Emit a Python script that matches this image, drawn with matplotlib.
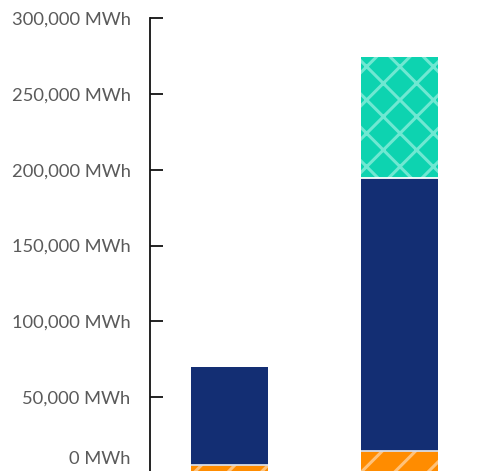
import matplotlib
matplotlib.use("Agg")
import matplotlib.pyplot as plt
import matplotlib.transforms as mtransforms
from matplotlib.ticker import FuncFormatter

categories = ["A", "B"]
orange_vals = [5300, 14500]
navy_vals = [64700, 180200]
teal_vals = [0, 79300]
yticks = [0, 50000, 100000, 150000, 200000, 250000, 300000]

plt.rcParams["font.family"] = ["Lato", "DejaVu Sans"]
plt.rcParams["hatch.linewidth"] = 2.2

fig = plt.figure(figsize=(5.01, 4.71), dpi=100)
ax = fig.add_axes([150/501, -2/471, 340/501, (473-18)/471])

x = list(range(len(categories)))
w = 0.453
bottoms2 = [o + n for o, n in zip(orange_vals, navy_vals)]

ax.bar(x, orange_vals, w, color="#FF8C00", edgecolor="#FFC27A", lw=0, hatch="/")
ax.bar(x, navy_vals, w, bottom=orange_vals, color="#132E73", lw=0)
ax.bar(x, teal_vals, w, bottom=bottoms2, color="#0DD3B0", edgecolor="#6FE8D2", lw=0, hatch="/\\")
# thin separators between segments
ax.hlines(orange_vals, [xi - w/2 for xi in x], [xi + w/2 for xi in x],
          color="#D8DCE6", lw=1.3, zorder=3)
sep_x = [xi for xi, t in zip(x, teal_vals) if t > 0]
sep_y = [b for b, t in zip(bottoms2, teal_vals) if t > 0]
ax.hlines(sep_y, [xi - w/2 for xi in sep_x], [xi + w/2 for xi in sep_x],
          color="white", lw=1.3, zorder=3)

ax.set_xlim(-0.468, 1.53)
ax.set_ylim(0, 300000)
ax.set_yticks(yticks)
ax.yaxis.set_major_formatter(FuncFormatter(lambda v, p: f"{int(v):,} MWh"))
ax.set_xticks([])
for s in ["top", "right", "bottom"]:
    ax.spines[s].set_visible(False)
ax.spines["left"].set_linewidth(1.3)
ax.spines["left"].set_color("#111111")
ax.tick_params(axis="y", direction="in", length=9, width=1.3, color="#111111",
               labelsize=13.2, labelcolor="#5a5a5a", pad=14)
labels = ax.get_yticklabels()
off = mtransforms.ScaledTranslation(0, 15/100, fig.dpi_scale_trans)
labels[0].set_transform(labels[0].get_transform() + off)

fig.savefig("out.png", dpi=100)
